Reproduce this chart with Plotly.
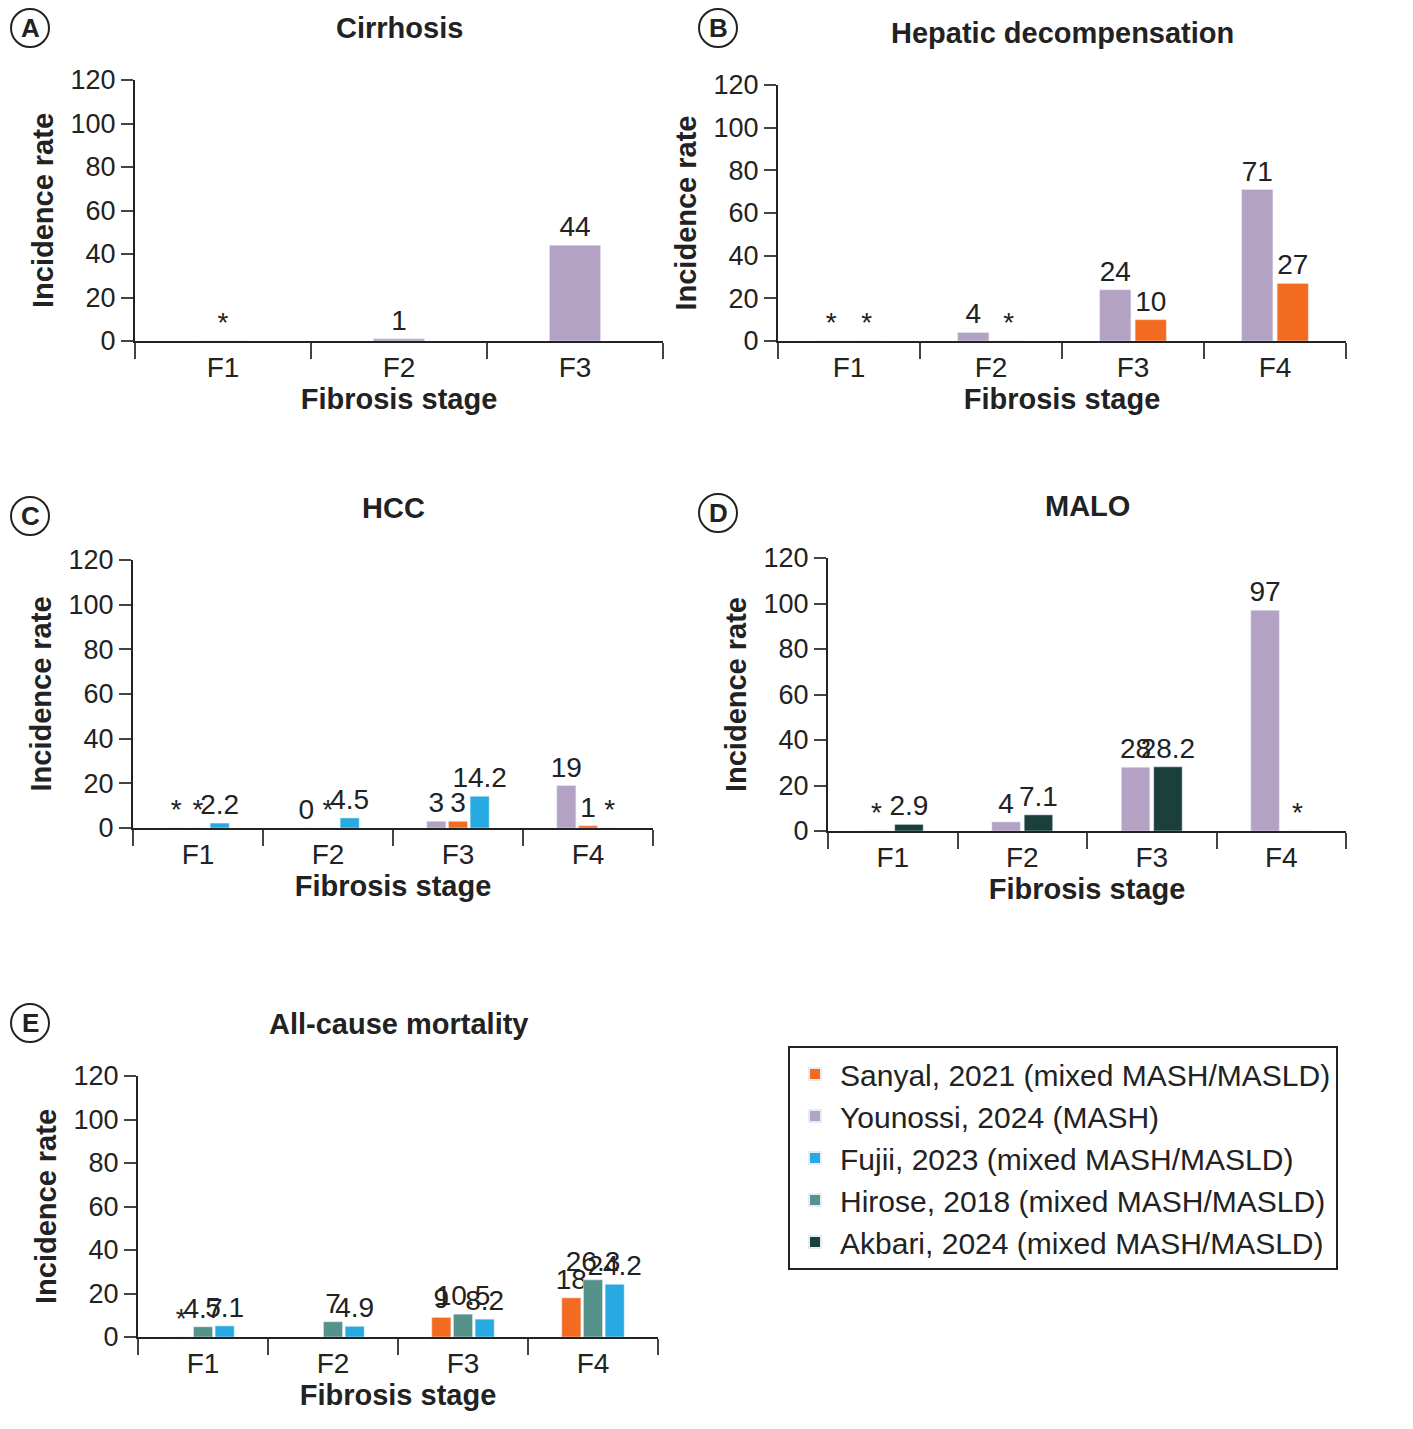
import plotly.graph_objects as go

# categories
stages3 = ["F1", "F2", "F3"]
stages4 = ["F1", "F2", "F3", "F4"]

# series colours / names
names = {
    "sanyal": "Sanyal, 2021 (mixed MASH/MASLD)",
    "younossi": "Younossi, 2024 (MASH)",
    "fujii": "Fujii, 2023 (mixed MASH/MASLD)",
    "hirose": "Hirose, 2018 (mixed MASH/MASLD)",
    "akbari": "Akbari, 2024 (mixed MASH/MASLD)",
}
colors = {
    "sanyal": "#F26B21",
    "younossi": "#B3A2C4",
    "fujii": "#27AAE1",
    "hirose": "#55938A",
    "akbari": "#1B3F3B",
}

# panel values (None = not shown, "*" label = not reported)
cirr_younossi = [0, 1, 44]
cirr_younossi_lbl = ["*", "1", "44"]

dec_younossi = [0, 4, 24, 71]
dec_younossi_lbl = ["*", "4", "24", "71"]
dec_sanyal = [0, 0, 10, 27]
dec_sanyal_lbl = ["*", "*", "10", "27"]

hcc_younossi = [0, 0, 3, 19]
hcc_younossi_lbl = ["*", "0", "3", "19"]
hcc_sanyal = [0, 0, 3, 1]
hcc_sanyal_lbl = ["*", "*", "3", "1"]
hcc_fujii = [2.2, 4.5, 14.2, 0]
hcc_fujii_lbl = ["2.2", "4.5", "14.2", "*"]

malo_younossi = [0, 4, 28, 97]
malo_younossi_lbl = ["*", "4", "28", "97"]
malo_akbari = [2.9, 7.1, 28.2, 0]
malo_akbari_lbl = ["2.9", "7.1", "28.2", "*"]

mort_sanyal = [0, None, 9, 18]
mort_sanyal_lbl = ["*", "", "9", "18"]
mort_hirose = [4.7, 7, 10.5, 26.3]
mort_hirose_lbl = ["4.7", "7", "10.5", "26.3"]
mort_fujii = [5.1, 4.9, 8.2, 24.2]
mort_fujii_lbl = ["5.1", "4.9", "8.2", "24.2"]

W, H = 1413, 1429
FONT = "Liberation Sans, Arial"

# pixel boxes of each plot area: (x0, x1, ytop, ybottom)
panels = [
    ("A", "Cirrhosis", (127, 655, 72, 333)),
    ("B", "Hepatic decompensation", (770, 1338, 77, 333)),
    ("C", "HCC", (125, 645, 552, 820)),
    ("D", "MALO", (820, 1338, 550, 823)),
    ("E", "All-cause mortality", (130, 650, 1068, 1329)),
]
letter_pos = [(22, 20), (710, 20), (22, 508), (710, 505), (22, 1015)]

fig = go.Figure()
shown = set()


def add_bar(idx, key, cats, vals, lbls, width=None):
    ax = "" if idx == 1 else str(idx)
    fig.add_trace(go.Bar(
        x=cats, y=vals, text=lbls, textposition="outside",
        constraintext="none",
        textfont=dict(size=28, color="#222"), cliponaxis=False,
        marker_color=colors[key], name=names[key], width=width,
        legendgroup=key, showlegend=key not in shown,
        legendrank=list(names).index(key),
        xaxis="x" + ax, yaxis="y" + ax,
    ))
    shown.add(key)


add_bar(1, "younossi", stages3, cirr_younossi, cirr_younossi_lbl, width=0.29)
add_bar(2, "younossi", stages4, dec_younossi, dec_younossi_lbl)
add_bar(2, "sanyal", stages4, dec_sanyal, dec_sanyal_lbl)
add_bar(3, "younossi", stages4, hcc_younossi, hcc_younossi_lbl)
add_bar(3, "sanyal", stages4, hcc_sanyal, hcc_sanyal_lbl)
add_bar(3, "fujii", stages4, hcc_fujii, hcc_fujii_lbl)
add_bar(4, "younossi", stages4, malo_younossi, malo_younossi_lbl)
add_bar(4, "akbari", stages4, malo_akbari, malo_akbari_lbl)
add_bar(5, "sanyal", stages4, mort_sanyal, mort_sanyal_lbl)
add_bar(5, "hirose", stages4, mort_hirose, mort_hirose_lbl)
add_bar(5, "fujii", stages4, mort_fujii, mort_fujii_lbl)

layout = dict(
    width=W, height=H, margin=dict(l=0, r=0, t=0, b=0),
    paper_bgcolor="white", plot_bgcolor="white",
    barmode="group", bargap=0.5, bargroupgap=0.12,
    uniformtext=dict(minsize=26, mode="show"),
    font=dict(family=FONT, size=26, color="#222"),
    legend=dict(x=780 / W, y=1 - 1038 / H, xanchor="left", yanchor="top",
                bordercolor="#222", borderwidth=2, font=dict(size=30),
                itemsizing="constant", tracegroupgap=16, itemwidth=40,
                traceorder="normal"),
    annotations=[], shapes=[],
)

for i, (letter, title, (x0, x1, yt, yb)) in enumerate(panels, start=1):
    ax = "" if i == 1 else str(i)
    layout["xaxis" + ax] = dict(
        domain=[x0 / W, x1 / W], anchor="y" + ax, type="category",
        tickson="boundaries", ticks="outside", ticklen=16, tickwidth=2,
        showline=True, linecolor="#222", linewidth=2, showgrid=False,
        tickfont=dict(size=28), automargin=False,
        title=dict(text="<b>Fibrosis stage</b>", font=dict(size=29), standoff=6),
    )
    layout["yaxis" + ax] = dict(
        domain=[1 - yb / H, 1 - yt / H], anchor="x" + ax,
        range=[0, 120], dtick=20, ticks="outside", ticklen=12, tickwidth=2,
        showline=True, linecolor="#222", linewidth=2, showgrid=False,
        zeroline=False, tickfont=dict(size=27), automargin=False,
        title=dict(text="<b>Incidence rate</b>", font=dict(size=29), standoff=8),
    )
    layout["annotations"].append(dict(
        text="<b>" + title + "</b>", xref="paper", yref="paper",
        x=(x0 + x1) / 2 / W, y=1 - (yt - 52) / H, xanchor="center",
        yanchor="middle", showarrow=False, font=dict(size=29)))
    lx, ly = letter_pos[i - 1]
    layout["shapes"].append(dict(
        type="circle", xref="paper", yref="paper",
        x0=(lx - 19) / W, x1=(lx + 19) / W, y0=1 - (ly + 19) / H,
        y1=1 - (ly - 19) / H, line=dict(color="#222", width=2)))
    layout["annotations"].append(dict(
        text="<b>" + letter + "</b>", xref="paper", yref="paper",
        x=lx / W, y=1 - ly / H, xanchor="center", yanchor="middle",
        showarrow=False, font=dict(size=26)))

fig.update_layout(layout)
fig.write_html("out.html")
